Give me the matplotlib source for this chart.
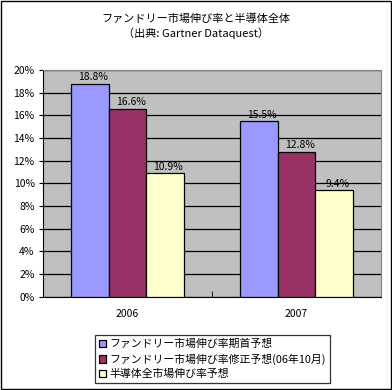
import matplotlib.pyplot as plt
import numpy as np
from matplotlib.patches import Rectangle

plt.rcParams['font.family'] = ['Noto Sans CJK JP', 'DejaVu Sans']

years = ["2006", "2007"]
series_names = ["ファンドリー市場伸び率期首予想",
                "ファンドリー市場伸び率修正予想(06年10月)",
                "半導体全市場伸び率予想"]
initial = [18.8, 15.5]
revised = [16.6, 12.8]
semis = [10.9, 9.4]
colors = ["#9999FF", "#993366", "#FFFFCC"]

fig = plt.figure(figsize=(3.92, 3.90), dpi=100)
# outer chart border
fig.patches.append(Rectangle((0.003, 0.003), 0.994, 0.994, transform=fig.transFigure,
                             fill=False, edgecolor="black", linewidth=1.0))

ax = fig.add_axes([0.1097, 0.2392, 0.8622, 0.5813])
ax.set_facecolor("#C0C0C0")

x = np.arange(len(years))
w = 1 / 4.5
for i, vals in enumerate([initial, revised, semis]):
    pos = x + (i - 1) * w
    ax.bar(pos, vals, width=w, color=colors[i], edgecolor="black", linewidth=0.9,
           label=series_names[i], zorder=3)
    for p, v in zip(pos, vals):
        ax.text(p + 0.02, v + 0.12, "%.1f%%" % v, ha="center", va="bottom", fontsize=7.5, zorder=4)

ax.set_xlim(-0.5, 1.5)
ax.set_ylim(0, 20)
ax.set_yticks(np.arange(0, 21, 2))
ax.set_yticklabels(["%d%%" % t for t in range(0, 21, 2)], fontsize=7.5)
ax.set_xticks(x)
ax.set_xticklabels(years, fontsize=7.5)
ax.set_xticks([0.5], minor=True)
ax.tick_params(axis="x", which="major", length=0, pad=9)
ax.tick_params(axis="x", which="minor", length=4, direction="in")
ax.tick_params(axis="y", length=3, width=0.8, pad=3)
ax.grid(axis="y", color="black", linewidth=0.9, zorder=0)
for s in ["top", "right"]:
    ax.spines[s].set_color("#808080")
for s in ["left", "bottom"]:
    ax.spines[s].set_color("black")

fig.text(0.5, 0.953, "ファンドリー市場伸び率と半導体全体", ha="center", va="center", fontsize=8)
fig.text(0.5, 0.914, "（出典: Gartner Dataquest）", ha="center", va="center", fontsize=8)

leg = fig.legend(loc="lower left", bbox_to_anchor=(0.242, 0.018), fontsize=7.8,
                 frameon=True, fancybox=False, handlelength=0.7, handleheight=0.7,
                 handletextpad=0.3, borderpad=0.35, labelspacing=0.4, borderaxespad=0)
leg.get_frame().set_edgecolor("black")
leg.get_frame().set_linewidth(0.9)

plt.savefig("out.png", dpi=100)
